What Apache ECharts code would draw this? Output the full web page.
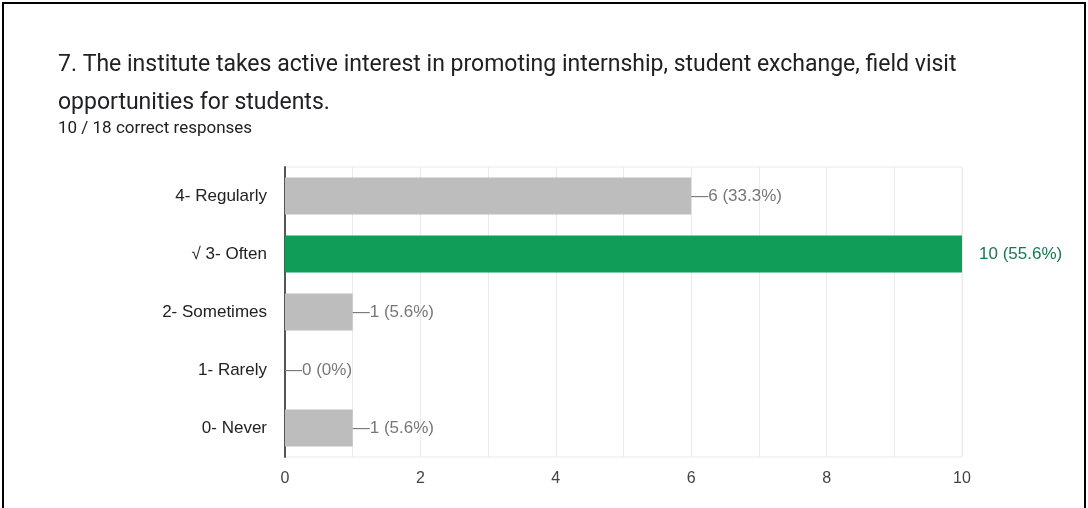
<!DOCTYPE html>
<html>
<head>
<meta charset="utf-8">
<script src="https://cdn.jsdelivr.net/npm/echarts@6/dist/echarts.min.js"></script>
<style>
html,body{margin:0;padding:0;background:#fff;}
#c{width:1088px;height:508px;position:relative;}
#frame{position:absolute;left:2px;top:2px;width:1084px;height:520px;border:2px solid #000;box-sizing:border-box;pointer-events:none;}
</style>
</head>
<body>
<div id="c"></div>
<div id="frame"></div>
<script>
var titleText = '7. The institute takes active interest in promoting internship, student exchange, field visit\nopportunities for students.';
var subtitleText = '10 / 18 correct responses';
var categories = ['4- Regularly', '√ 3- Often', '2- Sometimes', '1- Rarely', '0- Never'];
var values = [6, 10, 1, 0, 1];
var percents = ['33.3%', '55.6%', '5.6%', '0%', '5.6%'];
var correctIndex = 1;
var xMin = 0, xMax = 10, xInterval = 1;

var chart = echarts.init(document.getElementById('c'));
var seriesData = values.map(function (v, i) {
  var ok = i === correctIndex;
  return {
    value: v,
    itemStyle: { color: ok ? '#0f9d58' : '#bdbdbd' },
    label: {
      show: true,
      position: 'right',
      distance: ok ? 17 : 0,
      color: ok ? '#137a4c' : '#777777',
      fontSize: 17,
      fontFamily: 'Liberation Sans, Arial, sans-serif',
      formatter: (ok ? '' : '—') + v + ' (' + percents[i] + ')'
    }
  };
});

chart.setOption({
  animation: false,
  title: [
    {
      text: titleText,
      left: 53, top: 41,
      textStyle: { fontFamily: 'Roboto, sans-serif', fontSize: 23, fontWeight: 'normal', color: '#202124', lineHeight: 38 }
    },
    {
      text: subtitleText,
      left: 53, top: 115,
      textStyle: { fontFamily: 'Roboto, sans-serif', fontSize: 17, fontWeight: 'normal', color: '#202124' }
    }
  ],
  grid: {
    left: 285, right: 126, top: 167, height: 290,
    show: true, borderColor: '#ebebeb', borderWidth: 1, backgroundColor: 'transparent'
  },
  xAxis: {
    type: 'value', min: xMin, max: xMax, interval: xInterval,
    axisLine: { show: false }, axisTick: { show: false },
    splitLine: { show: true, lineStyle: { color: '#ebebeb', width: 1 } },
    axisLabel: {
      color: '#444', fontSize: 16, margin: 14,
      fontFamily: 'Liberation Sans, Arial, sans-serif',
      formatter: function (v) { return v % 2 === 0 ? String(v) : ''; }
    }
  },
  yAxis: {
    type: 'category', data: categories, inverse: true,
    axisLine: { show: true, lineStyle: { color: '#555', width: 2 } },
    axisTick: { show: false },
    axisLabel: { color: '#222', fontSize: 17, margin: 18, fontFamily: 'Liberation Sans, Arial, sans-serif' }
  },
  series: [{
    type: 'bar',
    barWidth: 37,
    data: seriesData
  }]
});
</script>
</body>
</html>
